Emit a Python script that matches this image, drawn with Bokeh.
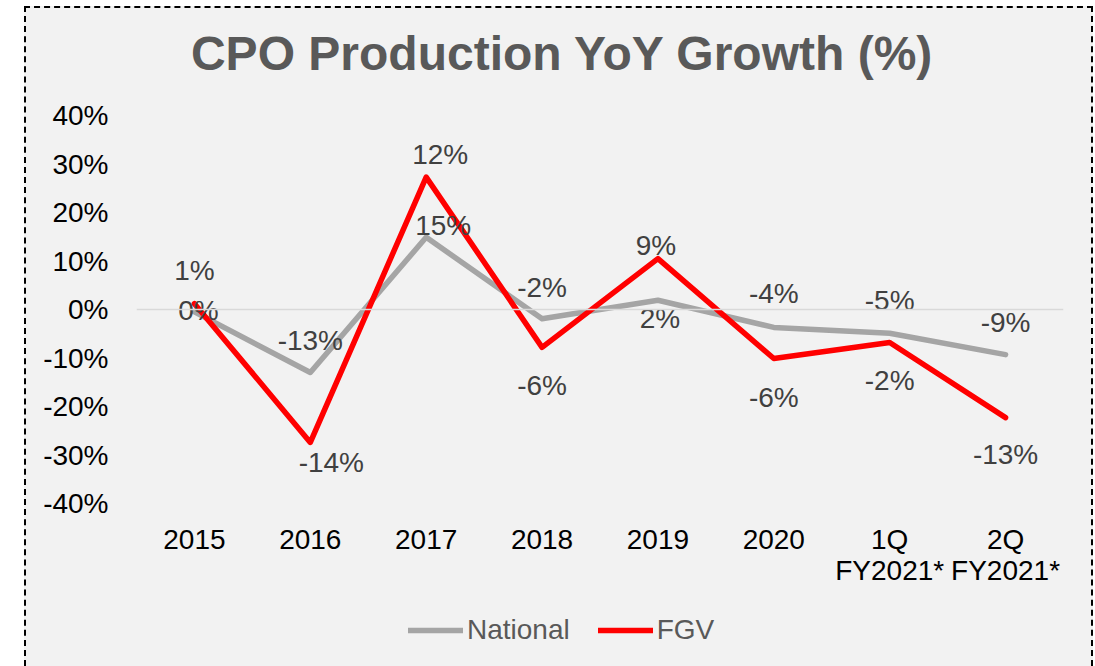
from bokeh.plotting import figure
from bokeh.models import (ColumnDataSource, Range1d, FactorRange, Span, Legend, LegendItem,
                          Label, PrintfTickFormatter, FixedTicker, Spacer)
from bokeh.layouts import row, column
from bokeh.core.properties import value
from bokeh.embed import file_html
from bokeh.resources import INLINE

# ---- data ----
categories = ["2015", "2016", "2017", "2018", "2019", "2020", "1Q\nFY2021*", "2Q\nFY2021*"]
national = [-0.5, -13.0, 14.9, -1.9, 1.9, -3.7, -4.9, -9.3]
fgv = [1.2, -27.4, 27.3, -7.8, 10.5, -10.1, -6.8, -22.3]
national_labels = ["0%", "-13%", "15%", "-2%", "2%", "-4%", "-5%", "-9%"]
fgv_labels = ["1%", "-14%", "12%", "-6%", "9%", "-6%", "-2%", "-13%"]
y_ticks = [-40, -30, -20, -10, 0, 10, 20, 30, 40]
series_names = ["National", "FGV"]
title_text = "CPO Production YoY Growth (%)"

# ---- label offsets in pixels (style) ----
nat_dx = [4, 0, 17, 0, 2, 0, 0, 0]
nat_dy = [-1, -32, -12, -31, 18, -34, -33, -32]
fgv_dx = [0, 21, 14, 0, -2, 0, 0, 0]
fgv_dy = [-33, 20, -23, 38, -13, 39, 38, 37]

FONT = "Liberation Sans"
BG = "#f2f2f2"
NAT_COLOR = "#a5a5a5"
FGV_COLOR = "#ff0000"
W = 1065
FRAME_W = 927          # frame width shared by all stacked figures (aligned by the column)
NAN = float("nan")


def blank_fig(h):
    f = figure(width=W, height=h, x_range=Range1d(0, FRAME_W), y_range=Range1d(0, h),
               x_axis_type=None, y_axis_type=None, output_backend="svg",
               toolbar_location=None, min_border=0)
    f.background_fill_color = None
    f.border_fill_color = BG
    f.outline_line_color = None
    return f


# ---- title strip ----
t_fig = blank_fig(80)
t_fig.add_layout(Label(x=426, y=35, text=title_text, text_align="center", text_baseline="middle",
                       text_font=FONT, text_font_size="48px", text_font_style="bold",
                       text_color="#595959"))

# ---- main chart ----
p = figure(x_range=FactorRange(*categories), y_range=Range1d(-40, 40),
           width=W, height=510, output_backend="svg", toolbar_location=None, title=None,
           min_border_left=110, min_border_right=28, min_border_top=27, min_border_bottom=95)
p.background_fill_color = None
p.border_fill_color = BG
p.outline_line_color = None
p.xgrid.grid_line_color = None
p.ygrid.grid_line_color = None

for ax in (p.xaxis, p.yaxis):
    ax.axis_line_color = None
    ax.major_tick_line_color = None
    ax.minor_tick_line_color = None
    ax.major_tick_out = 0
    ax.major_tick_in = 0
    ax.major_label_text_font = FONT
    ax.major_label_text_font_size = "28px"
    ax.major_label_text_color = "#000000"

p.yaxis.ticker = FixedTicker(ticks=y_ticks)
p.yaxis.formatter = PrintfTickFormatter(format="%d%%")
p.yaxis.major_label_standoff = 28
p.xaxis.major_label_standoff = 20
p.xaxis.major_label_text_line_height = 1.0

p.add_layout(Span(location=0, dimension="width", line_color="#d9d9d9", line_width=1.5))

p.line(x=categories, y=national, line_color=NAT_COLOR, line_width=5.5,
       line_join="round", line_cap="round")
p.line(x=categories, y=fgv, line_color=FGV_COLOR, line_width=5.5,
       line_join="round", line_cap="round")

src_nat = ColumnDataSource(dict(x=categories, y=national, t=national_labels, dx=nat_dx, dy=nat_dy))
src_fgv = ColumnDataSource(dict(x=categories, y=fgv, t=fgv_labels, dx=fgv_dx, dy=fgv_dy))
for src in (src_nat, src_fgv):
    p.text(x="x", y="y", text="t", x_offset="dx", y_offset="dy", source=src,
           text_align="center", text_baseline="middle",
           text_font=value(FONT), text_font_size=value("28px"), text_color="#404040")

# ---- legend strip (proxy renderers carry only the styles) ----
leg_fig = blank_fig(68)
ln_nat = leg_fig.line(x=[NAN, NAN], y=[NAN, NAN], line_color=NAT_COLOR, line_width=5.5,
                      line_cap="round")
ln_fgv = leg_fig.line(x=[NAN, NAN], y=[NAN, NAN], line_color=FGV_COLOR, line_width=5.5,
                      line_cap="round")
legend = Legend(items=[LegendItem(label=series_names[0], renderers=[ln_nat]),
                       LegendItem(label=series_names[1], renderers=[ln_fgv])],
                orientation="horizontal", location=(272, 20),
                glyph_width=55, glyph_height=20, label_standoff=4, spacing=28,
                padding=0, margin=0, border_line_color=None, background_fill_alpha=0,
                label_text_font=FONT, label_text_font_size="28px", label_text_color="#595959")
leg_fig.add_layout(legend)

inner = column(t_fig, p, leg_fig, spacing=0)
inner.styles = {"border-top": "2px dashed #000", "border-left": "2px dashed #000",
                "border-right": "2px dashed #000", "background-color": BG}

layout = column(Spacer(width=10, height=6), row(Spacer(width=24, height=10), inner))
open("out.html", "w").write(file_html(layout, INLINE))
